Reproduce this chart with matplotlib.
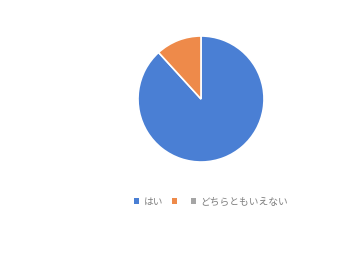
import matplotlib.pyplot as plt
from matplotlib.patches import Patch

plt.rcParams['font.family'] = ['Noto Sans CJK JP', 'DejaVu Sans']

# survey answers
labels = ["はい", "", "どちらともいえない"]
counts = [15, 2, 0]
colors = ["#4a7fd4", "#ee8a4a", "#a5a5a5"]

fig = plt.figure(figsize=(3.38, 2.59), dpi=100)
ax = fig.add_axes([0, 0, 1, 1])

ax.pie(counts[:2], colors=colors[:2], startangle=90, counterclock=False,
       center=(201, 160), radius=63,
       wedgeprops=dict(edgecolor="white", linewidth=1.2))
ax.set_xlim(0, 338)
ax.set_ylim(0, 259)
ax.set_aspect("equal")
ax.axis("off")

handles = [Patch(facecolor=c, edgecolor="none") for c in colors]
leg = fig.legend(handles, labels, loc="center", bbox_to_anchor=(0.625, 0.222),
                 ncol=3, frameon=False, fontsize=7, handlelength=0.5,
                 handleheight=0.5, handletextpad=0.5, columnspacing=0.9,
                 labelcolor="#7f7f7f")

fig.savefig("out.png", dpi=100)
